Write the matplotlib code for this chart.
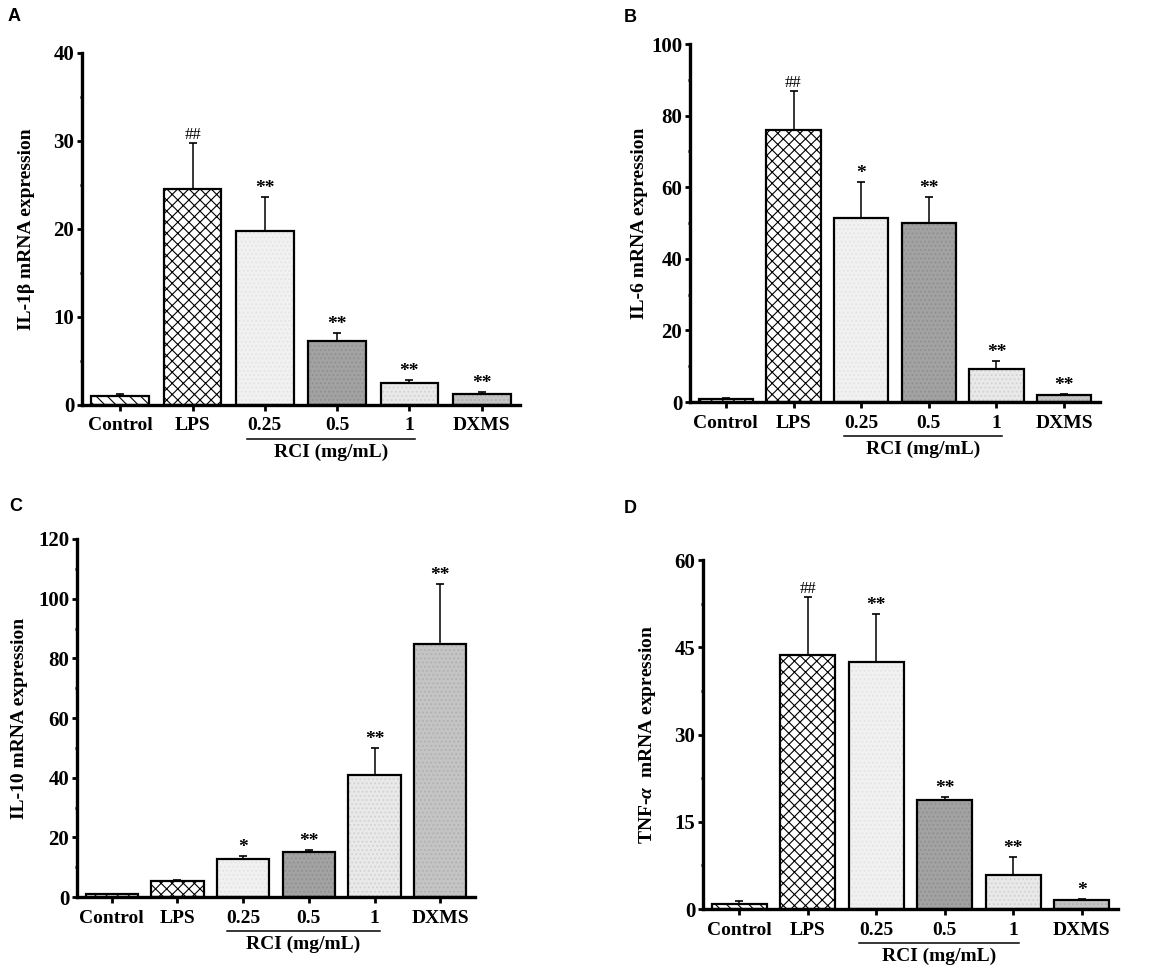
import matplotlib
matplotlib.use("Agg")
import matplotlib.pyplot as plt
import matplotlib.transforms as mtransforms
from matplotlib.ticker import MultipleLocator

# groups on the x axis
groups = ["Control", "LPS", "0.25", "0.5", "1", "DXMS"]

# IL-1b (panel A)
il1b_mean = [1.0, 24.6, 19.8, 7.3, 2.5, 1.2]
il1b_err = [0.3, 5.2, 3.8, 0.9, 0.35, 0.25]
il1b_sig = ["", "##", "**", "**", "**", "**"]

# IL-6 (panel B)
il6_mean = [0.9, 76.1, 51.3, 49.9, 9.3, 1.9]
il6_err = [0.1, 10.9, 10.2, 7.4, 2.2, 0.4]
il6_sig = ["", "##", "*", "**", "**", "**"]

# IL-10 (panel C)
il10_mean = [0.9, 5.2, 12.7, 15.0, 40.8, 84.9]
il10_err = [0.2, 0.5, 1.0, 0.6, 9.1, 19.9]
il10_sig = ["", "", "*", "**", "**", "**"]

# TNF-a (panel D)
tnf_mean = [0.9, 43.6, 42.4, 18.8, 5.9, 1.5]
tnf_err = [0.5, 10.1, 8.3, 0.4, 3.0, 0.2]
tnf_sig = ["", "##", "**", "**", "**", "*"]

plt.rcParams["font.family"] = ["Liberation Serif", "DejaVu Serif"]
plt.rcParams["font.weight"] = "bold"
plt.rcParams["mathtext.fontset"] = "custom"
plt.rcParams["mathtext.it"] = "Liberation Serif:italic:bold"
plt.rcParams["mathtext.rm"] = "Liberation Serif:bold"
plt.rcParams["hatch.linewidth"] = 0.8

W, H = 1170, 971
fig = plt.figure(figsize=(W / 100, H / 100), dpi=100)

# face colour, texture colour, texture hatch for each group
styles = [
    ("white", "black", "\\\\\\"),
    ("white", "black", "xxx"),
    ("#f1f1f1", "#e4e4e4", "...."),
    ("#a2a2a2", "#8f8f8f", "...."),
    ("#e9e9e9", "#d2d2d2", "...."),
    ("#c4c4c4", "#b0b0b0", "...."),
]


def panel(rect_px, mean, err, sig, ylab, ymax, major, letter, letter_px, ylab_x):
    l, r, t, b = rect_px
    ax = fig.add_axes([l / W, 1 - b / H, (r - l) / W, (b - t) / H])
    x = list(range(len(groups)))
    for i in x:
        fc, hc, hatch = styles[i]
        ax.bar(i, mean[i], width=0.8, color=fc, edgecolor=hc, linewidth=0,
               hatch=hatch, zorder=2)
        ax.bar(i, mean[i], width=0.8, fill=False, edgecolor="black",
               linewidth=1.6, zorder=3)
    ax.errorbar(x, mean, yerr=[[0] * len(x), err], fmt="none", ecolor="black",
                elinewidth=1.1, capsize=3, capthick=1.2, zorder=1)
    for i in x:
        if sig[i]:
            fs = 12 if sig[i] == "##" else 14
            ax.annotate(sig[i], (i, mean[i] + err[i]), xytext=(0, 0),
                        textcoords="offset points", ha="center", va="bottom",
                        fontsize=fs, fontweight="normal" if sig[i] == "##" else "bold")
    ax.set_xlim(-0.53, 5.53)
    ax.set_ylim(0, ymax)
    ax.yaxis.set_major_locator(MultipleLocator(major))
    ax.yaxis.set_minor_locator(MultipleLocator(major / 2))
    for s in ["top", "right"]:
        ax.spines[s].set_visible(False)
    for s in ["left", "bottom"]:
        ax.spines[s].set_linewidth(2.4)
    ax.set_xticks(x)
    ax.set_xticklabels(groups, fontsize=14, fontweight="bold")
    ax.tick_params(axis="x", direction="out", length=4, width=2, pad=5)
    ax.tick_params(axis="y", which="major", direction="out", length=3.5, width=2,
                   pad=2, labelsize=15)
    ax.tick_params(axis="y", which="minor", direction="out", length=1.5, width=2)
    for lab in ax.get_yticklabels():
        lab.set_fontweight("bold")
    ax.set_ylabel(ylab, fontsize=14, fontweight="bold")
    ax.yaxis.set_label_coords(ylab_x, 0.5)

    # RCI bracket under the three doses
    hpx = b - t
    trans = mtransforms.blended_transform_factory(ax.transData, ax.transAxes)
    ax.plot([1.75, 4.08], [-34 / hpx, -34 / hpx], color="black", lw=1.1,
            transform=trans, clip_on=False)
    ax.text(2.92, -47 / hpx, "RCI (mg/mL)", transform=trans, ha="center",
            va="center", fontsize=14, fontweight="bold")

    fig.text(letter_px[0] / W, 1 - letter_px[1] / H, letter, fontsize=13,
             fontweight="bold", family=["Liberation Sans", "DejaVu Sans"],
             ha="left", va="top")
    return ax


panel((82, 520, 53, 405), il1b_mean, il1b_err, il1b_sig,
      "IL-1β mRNA expression", 40, 10, "A", (8, 8), -0.107)
panel((690, 1100, 44, 402), il6_mean, il6_err, il6_sig,
      "IL-6 mRNA expression", 100, 20, "B", (624, 9), -0.102)
panel((77, 475, 539, 897), il10_mean, il10_err, il10_sig,
      "IL-10 mRNA expression", 120, 20, "C", (9, 498), -0.123)
panel((703, 1118, 560, 909), tnf_mean, tnf_err, tnf_sig,
      r"TNF-$\alpha$  mRNA expression", 60, 15, "D", (624, 500), -0.108)

fig.savefig("out.png", dpi=100)
